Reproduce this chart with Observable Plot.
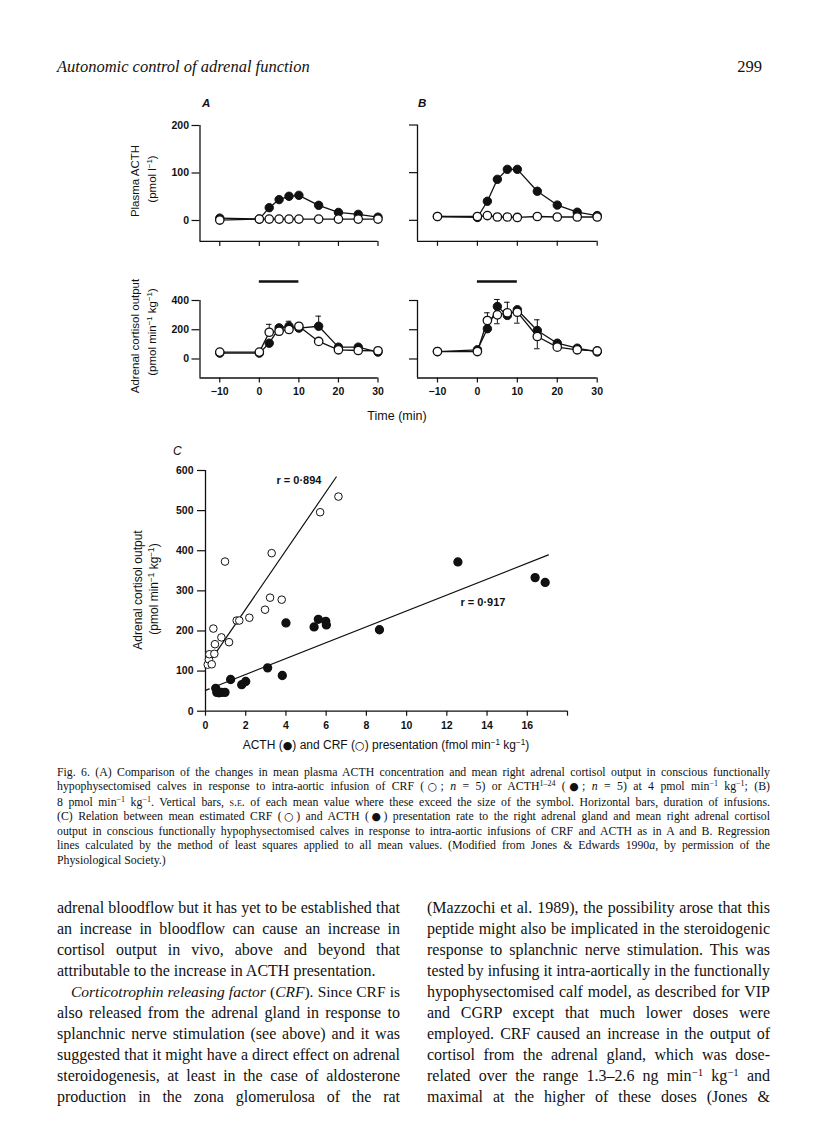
<!DOCTYPE html>
<html>
<head>
<meta charset="utf-8">
<script src="https://cdn.jsdelivr.net/npm/d3@7"></script>
<script src="https://cdn.jsdelivr.net/npm/@observablehq/plot@0.6"></script>
<style>
  body { margin: 0; background: #fff; }
  #page { position: relative; width: 816px; height: 1122px; overflow: hidden;
          font-family: "Liberation Serif", "Times New Roman", serif; color: #111; }
  .abs { position: absolute; }
  .hdr { font-size: 16.5px; line-height: 20px; }
  .cap { position: absolute; left: 57px; width: 713px; font-size: 11.8px; line-height: 14.3px; }
  .col { position: absolute; width: 343px; font-size: 16px; line-height: 21px; }
  .ln { text-align: justify; text-align-last: justify; }
  .ln.last { text-align-last: left; }
  sup { font-size: 0.68em; line-height: 0; vertical-align: 0.5em; }
  .sc { font-variant: small-caps; }
  .sym { font-family: "DejaVu Sans", sans-serif; font-size: 0.92em; }
  .sans { font-family: "Liberation Sans", Arial, sans-serif; }
  .lab { position: absolute; font-family: "Liberation Sans", Arial, sans-serif; white-space: nowrap;
         transform: translate(-50%, -50%) rotate(-90deg); color: #111; }
  .plot { position: absolute; }
  .plot svg { overflow: visible; }
</style>
</head>
<body>
<div id="page">
  <div class="abs hdr" style="left:57px; top:57px; font-style:italic;">Autonomic control of adrenal function</div>
  <div class="abs hdr" style="right:54px; top:57px;">299</div>

  <div class="abs sans" style="left:202px; top:97px; font-size:11.5px; font-style:italic; font-weight:bold;">A</div>
  <div class="abs sans" style="left:418px; top:97px; font-size:11.5px; font-style:italic; font-weight:bold;">B</div>
  <div class="abs sans" style="left:173px; top:444px; font-size:12px; font-style:italic;">C</div>

  <div class="lab" style="left:135px; top:181px; font-size:11.5px;">Plasma ACTH</div>
  <div class="lab" style="left:152px; top:179px; font-size:11.5px;">(pmol l<sup>−1</sup>)</div>
  <div class="lab" style="left:135px; top:336px; font-size:11.5px;">Adrenal cortisol output</div>
  <div class="lab" style="left:152px; top:332px; font-size:11.5px;">(pmol min<sup>−1</sup> kg<sup>−1</sup>)</div>
  <div class="abs sans" style="left:397px; top:416px; transform:translate(-50%,-50%); font-size:12.5px; white-space:nowrap;">Time (min)</div>

  <div class="lab" style="left:138px; top:590px; font-size:12px;">Adrenal cortisol output</div>
  <div class="lab" style="left:154px; top:589px; font-size:12px;">(pmol min<sup>−1</sup> kg<sup>−1</sup>)</div>
  <div class="abs sans" style="left:386px; top:745px; transform:translate(-50%,-50%); font-size:12px; white-space:nowrap;">ACTH (<span class="sym">●</span>) and CRF (<span class="sym">○</span>) presentation (fmol min<sup>−1</sup> kg<sup>−1</sup>)</div>

  <div class="cap" style="top:765px;">
    <div class="ln">Fig. 6. (A) Comparison of the changes in mean plasma ACTH concentration and mean right adrenal cortisol output in conscious functionally</div>
    <div class="ln">hypophysectomised calves in response to intra-aortic infusion of CRF (<span class="sym">○</span>; <i>n</i> = 5) or ACTH<sup>1–24</sup> (<span class="sym">●</span>; <i>n</i> = 5) at 4 pmol min<sup>−1</sup> kg<sup>−1</sup>; (B)</div>
    <div class="ln">8 pmol min<sup>−1</sup> kg<sup>−1</sup>. Vertical bars, <span class="sc">s.e.</span> of each mean value where these exceed the size of the symbol. Horizontal bars, duration of infusions.</div>
    <div class="ln">(C) Relation between mean estimated CRF (<span class="sym">○</span>) and ACTH (<span class="sym">●</span>) presentation rate to the right adrenal gland and mean right adrenal cortisol</div>
    <div class="ln">output in conscious functionally hypophysectomised calves in response to intra-aortic infusions of CRF and ACTH as in A and B. Regression</div>
    <div class="ln">lines calculated by the method of least squares applied to all mean values. (Modified from Jones &amp; Edwards 1990<i>a</i>, by permission of the</div>
    <div class="ln last">Physiological Society.)</div>
  </div>

  <div class="col" style="left:57px; top:897px;">
    <div class="ln">adrenal bloodflow but it has yet to be established that</div>
    <div class="ln">an increase in bloodflow can cause an increase in</div>
    <div class="ln">cortisol output in vivo, above and beyond that</div>
    <div class="ln last">attributable to the increase in ACTH presentation.</div>
    <div class="ln" style="text-indent:14px;"><i>Corticotrophin releasing factor</i> (<i>CRF</i>). Since CRF is</div>
    <div class="ln">also released from the adrenal gland in response to</div>
    <div class="ln">splanchnic nerve stimulation (see above) and it was</div>
    <div class="ln">suggested that it might have a direct effect on adrenal</div>
    <div class="ln">steroidogenesis, at least in the case of aldosterone</div>
    <div class="ln">production in the zona glomerulosa of the rat</div>
  </div>
  <div class="col" style="left:427px; top:897px;">
    <div class="ln">(Mazzochi et al. 1989), the possibility arose that this</div>
    <div class="ln">peptide might also be implicated in the steroidogenic</div>
    <div class="ln">response to splanchnic nerve stimulation. This was</div>
    <div class="ln">tested by infusing it intra-aortically in the functionally</div>
    <div class="ln">hypophysectomised calf model, as described for VIP</div>
    <div class="ln">and CGRP except that much lower doses were</div>
    <div class="ln">employed. CRF caused an increase in the output of</div>
    <div class="ln">cortisol from the adrenal gland, which was dose-</div>
    <div class="ln">related over the range 1.3–2.6 ng min<sup>−1</sup> kg<sup>−1</sup> and</div>
    <div class="ln">maximal at the higher of these doses (Jones &amp;</div>
  </div>
</div>

<script>
// ---------- Data ----------
const times = [-10, 0, 2.5, 5, 7.5, 10, 15, 20, 25, 30];

// Plasma ACTH (pmol/l)
const plasmaA_ACTH = [5, 3, 27, 44, 51, 53, 32, 17, 13, 7];
const plasmaA_CRF  = [1, 3, 3, 3, 3, 3, 3, 3, 3, 3];
const plasmaB_ACTH = [8, 6, 40, 86, 107, 107, 61, 32, 17, 10];
const plasmaB_CRF  = [8, 8, 10, 7, 7, 6, 8, 7, 7, 7];

// Adrenal cortisol output (pmol/min/kg)
const cortA_ACTH = [40, 40, 108, 213, 224, 211, 224, 81, 81, 47];
const cortA_CRF  = [47, 47, 183, 190, 202, 224, 120, 63, 58, 56];
const cortB_ACTH = [51, 63, 207, 359, 298, 337, 195, 108, 74, 48];
const cortB_CRF  = [51, 51, 263, 302, 316, 320, 154, 81, 63, 55];

// S.E. bars: time, series, end of bar
const seA = [
  {t: 2.5, series: "CRF", tip: 237},
  {t: 5, series: "CRF", tip: 165},
  {t: 7.5, series: "ACTH", tip: 258},
  {t: 15, series: "ACTH", tip: 293}
];
const seB = [
  {t: 2.5, series: "CRF", tip: 316},
  {t: 5, series: "ACTH", tip: 407},
  {t: 5, series: "CRF", tip: 241},
  {t: 7.5, series: "CRF", tip: 388},
  {t: 10, series: "CRF", tip: 245},
  {t: 15, series: "ACTH", tip: 268},
  {t: 15, series: "CRF", tip: 70}
];

// Infusion duration (min)
const infusion = [{start: 0, end: 10}];

// Tick values
const timeTicks = [-10, 0, 10, 20, 30];
const plasmaTicks = [0, 100, 200];
const cortTicks = [0, 200, 400];
const presTicks = [0, 2, 4, 6, 8, 10, 12, 14, 16, 18];
const presTickLabels = [0, 2, 4, 6, 8, 10, 12, 14, 16];
const cortCTicks = [0, 100, 200, 300, 400, 500, 600];

// Panel C: presentation rate (fmol/min/kg) vs cortisol output
const crfPres = [0.11, 0.17, 0.19, 0.31, 0.44, 0.39, 0.47, 0.79, 0.97, 1.17, 1.55, 1.68, 2.18, 2.96, 3.21, 3.29, 3.79, 5.70, 6.61];
const crfCort = [116, 129, 142, 117, 143, 206, 167, 184, 373, 172, 226, 226, 233, 253, 283, 394, 278, 496, 535];
const acthPres = [0.51, 0.56, 0.67, 0.8, 0.97, 1.25, 1.8, 2.0, 3.09, 3.82, 4.0, 5.40, 5.61, 5.98, 6.01, 8.65, 12.55, 16.39, 16.89];
const acthCort = [57, 47, 46, 47, 47, 79, 66, 74, 108, 89, 220, 210, 229, 224, 215, 203, 372, 333, 321];

// Regression lines (least squares)
const regression = [
  {series: "CRF", intercept: 108, slope: 73.2, from: 0.35, to: 6.5, dashedTo: null},
  {series: "ACTH", intercept: 52, slope: 19.8, from: 0, to: 17.05, dashedTo: 0.55}
];
const rLabels = [
  {x: 3.53, y: 575, text: "r = 0·894"},
  {x: 12.68, y: 271, text: "r = 0·917"}
];

// ---------- Drawing ----------
const page = document.getElementById("page");
const fmtTime = d => d < 0 ? "−" + Math.abs(d) : String(d);
const baseStyle = {fontFamily: "'Liberation Sans', Arial, sans-serif", fontSize: "10.5px",
                   fontWeight: "bold", background: "transparent", color: "#111", overflow: "visible"};

function place(svg, L, T) {
  const div = document.createElement("div");
  div.className = "plot";
  div.style.left = L + "px";
  div.style.top = T + "px";
  div.appendChild(svg);
  page.appendChild(div);
}

function timePanel(g) {
  const rows = (vals, s) => times.map((t, i) => ({t, v: vals[i], s}));
  const acth = rows(g.acth, "ACTH");
  const crf = rows(g.crf, "CRF");
  const seRows = (g.se || []).map(e => {
    const src = e.series === "ACTH" ? g.acth : g.crf;
    return {t: e.t, mean: src[times.indexOf(e.t)], tip: e.tip};
  });
  const svg = Plot.plot({
    width: g.W, height: g.H,
    marginLeft: g.x0 - g.L, marginRight: g.L + g.W - g.x1,
    marginTop: g.y1 - g.T, marginBottom: g.T + g.H - g.y0,
    x: {domain: g.xDomain}, y: {domain: g.yDomain},
    style: baseStyle,
    marks: [
      Plot.axisY({ticks: g.yTicks, tickSize: 8, tickPadding: 3, strokeWidth: 1.2,
                  tickFormat: g.yLabels ? (d => String(d)) : (() => ""), label: null}),
      Plot.axisX({ticks: timeTicks, tickSize: 5, tickPadding: 5, strokeWidth: 1.2,
                  tickFormat: g.xLabels ? fmtTime : (() => ""), label: null}),
      Plot.ruleX([g.xDomain[0]], {strokeWidth: 1.3}),
      Plot.ruleY([g.yDomain[0]], {strokeWidth: 1.3}),
      Plot.ruleX(seRows, {x: "t", y1: "mean", y2: "tip", strokeWidth: 1}),
      Plot.ruleY(seRows, {y: "tip", x1: d => d.t - 0.7, x2: d => d.t + 0.7, strokeWidth: 1}),
      Plot.line(acth, {x: "t", y: "v", stroke: "#111", strokeWidth: 1.3}),
      Plot.line(crf, {x: "t", y: "v", stroke: "#111", strokeWidth: 1.3}),
      Plot.dot(acth, {x: "t", y: "v", r: 4.2, fill: "#111", stroke: "#111", strokeWidth: 1}),
      Plot.dot(crf, {x: "t", y: "v", r: 4.2, fill: "white", stroke: "#111", strokeWidth: 1.3})
    ]
  });
  place(svg, g.L, g.T);
}

function infusionBar(g) {
  const svg = Plot.plot({
    width: g.W, height: 18,
    marginLeft: g.x0 - g.L, marginRight: g.L + g.W - g.x1, marginTop: 0, marginBottom: 0,
    x: {domain: g.xDomain, axis: null}, y: {domain: [-1, 1], axis: null},
    style: baseStyle,
    marks: [Plot.ruleY(infusion, {y: 0, x1: "start", x2: "end", strokeWidth: 2.6, stroke: "#111"})]
  });
  place(svg, g.L, g.T);
}

const xDom = [-15, 30];
timePanel({L: 100, T: 95, W: 300, H: 160, x0: 199.5, x1: 377.5, y0: 240.9, y1: 125,
  xDomain: xDom, yDomain: [-44, 200], yTicks: plasmaTicks, yLabels: true, xLabels: false,
  acth: plasmaA_ACTH, crf: plasmaA_CRF});
timePanel({L: 400, T: 95, W: 220, H: 160, x0: 417, x1: 596.7, y0: 240.8, y1: 124.5,
  xDomain: xDom, yDomain: [-44, 200], yTicks: plasmaTicks, yLabels: false, xLabels: false,
  acth: plasmaB_ACTH, crf: plasmaB_CRF});
infusionBar({L: 100, T: 272, W: 300, x0: 199.5, x1: 377.5, xDomain: xDom});
infusionBar({L: 400, T: 272, W: 220, x0: 417, x1: 596.7, xDomain: xDom});
timePanel({L: 100, T: 290, W: 300, H: 120, x0: 199.5, x1: 377.5, y0: 377.5, y1: 300,
  xDomain: xDom, yDomain: [-130, 400], yTicks: cortTicks, yLabels: true, xLabels: true,
  acth: cortA_ACTH, crf: cortA_CRF, se: seA});
timePanel({L: 400, T: 290, W: 220, H: 120, x0: 417, x1: 596.7, y0: 377.5, y1: 300,
  xDomain: xDom, yDomain: [-130, 400], yTicks: cortTicks, yLabels: false, xLabels: true,
  acth: cortB_ACTH, crf: cortB_CRF, se: seB});

// Panel C
(function () {
  const L = 150, T = 462, W = 440, H = 273, x0 = 205, x1 = 567, y0 = 710.7, y1 = 470;
  const crf = crfPres.map((x, i) => ({x, y: crfCort[i]}));
  const acth = acthPres.map((x, i) => ({x, y: acthCort[i]}));
  const segs = [];
  regression.forEach(r => {
    const f = x => r.intercept + r.slope * x;
    if (r.dashedTo != null) {
      segs.push({id: r.series + "d", dashed: true, pts: [{x: r.from, y: f(r.from)}, {x: r.dashedTo, y: f(r.dashedTo)}]});
      segs.push({id: r.series, dashed: false, pts: [{x: r.dashedTo, y: f(r.dashedTo)}, {x: r.to, y: f(r.to)}]});
    } else {
      segs.push({id: r.series, dashed: false, pts: [{x: r.from, y: f(r.from)}, {x: r.to, y: f(r.to)}]});
    }
  });
  const solid = segs.filter(s => !s.dashed).flatMap(s => s.pts.map(p => ({...p, id: s.id})));
  const dashed = segs.filter(s => s.dashed).flatMap(s => s.pts.map(p => ({...p, id: s.id})));
  const svg = Plot.plot({
    width: W, height: H,
    marginLeft: x0 - L, marginRight: L + W - x1, marginTop: y1 - T, marginBottom: T + H - y0,
    x: {domain: [0, 18]}, y: {domain: [0, 600]},
    style: baseStyle,
    marks: [
      Plot.axisY({ticks: cortCTicks, tickSize: 8, tickPadding: 4, strokeWidth: 1.2,
                  tickFormat: d => String(d), label: null}),
      Plot.axisX({ticks: presTicks, tickSize: 5, tickPadding: 5, strokeWidth: 1.2,
                  tickFormat: d => presTickLabels.includes(d) ? String(d) : "", label: null}),
      Plot.ruleX([0], {strokeWidth: 1.3}),
      Plot.ruleY([0], {strokeWidth: 1.3}),
      Plot.line(solid, {x: "x", y: "y", z: "id", stroke: "#111", strokeWidth: 1.2}),
      Plot.line(dashed, {x: "x", y: "y", z: "id", stroke: "#111", strokeWidth: 1.2, strokeDasharray: "4,3"}),
      Plot.dot(crf, {x: "x", y: "y", r: 3.8, fill: "white", stroke: "#111", strokeWidth: 1}),
      Plot.dot(acth, {x: "x", y: "y", r: 3.9, fill: "#111", stroke: "#111"}),
      Plot.text(rLabels, {x: "x", y: "y", text: "text", textAnchor: "start", fontSize: 11, fontWeight: "bold"})
    ]
  });
  place(svg, L, T);
})();

// Keep each typeset line on one line (justified)
document.querySelectorAll(".ln").forEach(el => {
  const lh = parseFloat(getComputedStyle(el).lineHeight);
  let fs = parseFloat(getComputedStyle(el).fontSize);
  let n = 0;
  while (el.getBoundingClientRect().height > lh * 1.4 && n < 60) {
    fs -= 0.1; el.style.fontSize = fs + "px"; n++;
  }
});
</script>
</body>
</html>
